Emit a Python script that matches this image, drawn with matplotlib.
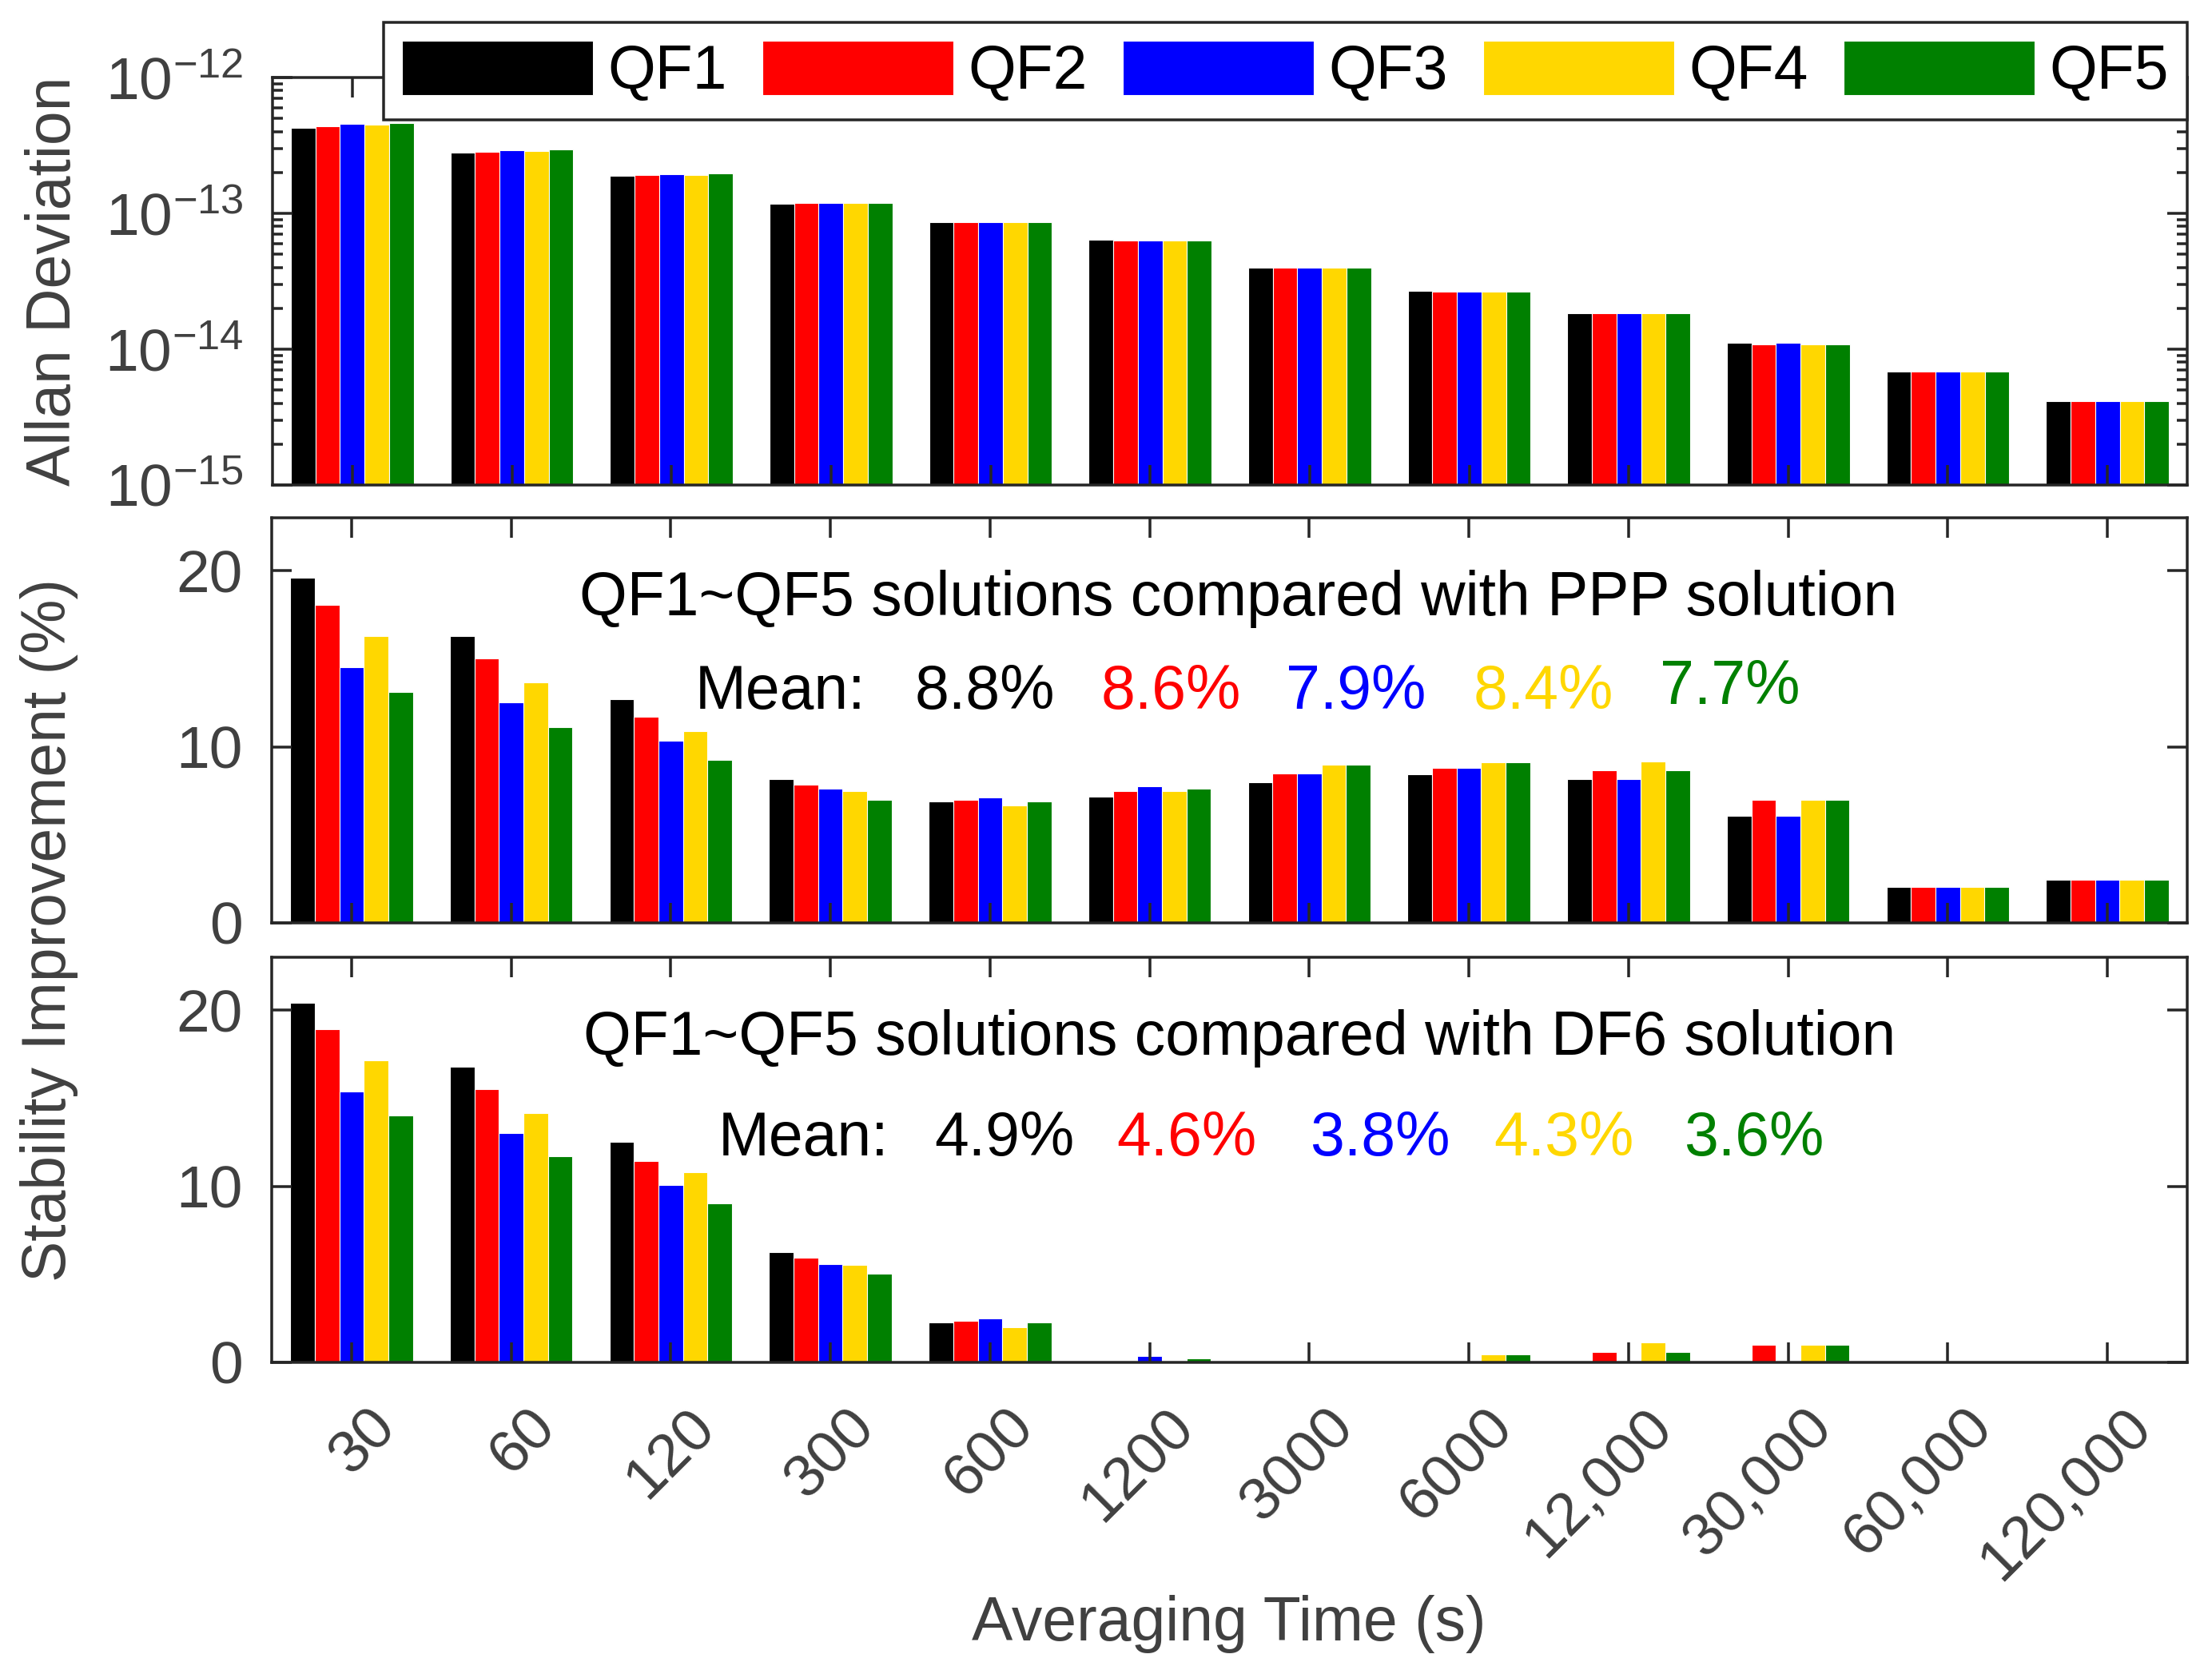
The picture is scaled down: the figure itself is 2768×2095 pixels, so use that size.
import numpy as np
import matplotlib
matplotlib.use("Agg")
import matplotlib.pyplot as plt
import matplotlib.transforms as mtransforms
from matplotlib.ticker import LogLocator, NullFormatter

plt.rcParams["font.family"] = ["Liberation Sans", "DejaVu Sans"]

# === Daten ===
tau_labels = ["30", "60", "120", "300", "600", "1200", "3000", "6000",
              "12,000", "30,000", "60,000", "120,000"]
serien = ["QF1", "QF2", "QF3", "QF4", "QF5"]
farben = ["#000000", "#FF0000", "#0000FF", "#FFD700", "#008000"]

# Allan-Abweichung
adev_qf1 = [4.26e-13, 2.81e-13, 1.89e-13, 1.18e-13, 8.6e-14, 6.4e-14, 3.98e-14, 2.69e-14, 1.84e-14, 1.10e-14, 6.75e-15, 4.04e-15]
adev_qf2 = [4.38e-13, 2.84e-13, 1.92e-13, 1.19e-13, 8.6e-14, 6.3e-14, 3.98e-14, 2.65e-14, 1.84e-14, 1.08e-14, 6.75e-15, 4.04e-15]
adev_qf3 = [4.56e-13, 2.92e-13, 1.94e-13, 1.19e-13, 8.6e-14, 6.3e-14, 3.98e-14, 2.65e-14, 1.84e-14, 1.10e-14, 6.75e-15, 4.04e-15]
adev_qf4 = [4.47e-13, 2.88e-13, 1.92e-13, 1.19e-13, 8.6e-14, 6.3e-14, 3.98e-14, 2.65e-14, 1.82e-14, 1.08e-14, 6.75e-15, 4.04e-15]
adev_qf5 = [4.62e-13, 2.96e-13, 1.97e-13, 1.19e-13, 8.6e-14, 6.3e-14, 3.98e-14, 2.65e-14, 1.84e-14, 1.08e-14, 6.75e-15, 4.04e-15]

# Verbesserung gegenueber PPP (%)
ppp_qf1 = [19.6, 16.3, 12.7, 8.15, 6.9, 7.15, 8.0, 8.45, 8.15, 6.1, 2.05, 2.45]
ppp_qf2 = [18.05, 15.0, 11.7, 7.85, 7.0, 7.5, 8.5, 8.8, 8.65, 7.0, 2.05, 2.45]
ppp_qf3 = [14.5, 12.5, 10.35, 7.6, 7.1, 7.75, 8.5, 8.8, 8.15, 6.1, 2.05, 2.45]
ppp_qf4 = [16.3, 13.65, 10.9, 7.5, 6.65, 7.5, 9.0, 9.1, 9.15, 7.0, 2.05, 2.45]
ppp_qf5 = [13.1, 11.1, 9.25, 7.0, 6.9, 7.6, 9.0, 9.1, 8.65, 7.0, 2.05, 2.45]
ppp_mean = ["8.8%", "8.6%", "7.9%", "8.4%", "7.7%"]

# Verbesserung gegenueber DF6 (%)
df6_qf1 = [20.4, 16.8, 12.5, 6.25, 2.26, 0, 0, 0, 0, 0, 0, 0]
df6_qf2 = [18.9, 15.5, 11.45, 5.93, 2.35, 0, 0, 0, 0.58, 0.99, 0, 0]
df6_qf3 = [15.4, 13.0, 10.05, 5.6, 2.49, 0.36, 0, 0, 0, 0, 0, 0]
df6_qf4 = [17.15, 14.15, 10.8, 5.52, 1.99, 0, 0, 0.45, 1.13, 0.99, 0, 0]
df6_qf5 = [14.0, 11.7, 9.05, 5.02, 2.26, 0.23, 0, 0.45, 0.58, 0.99, 0, 0]
df6_mean = ["4.9%", "4.6%", "3.8%", "4.3%", "3.6%"]

# === Stil ===
FS = 27.7
TICK_FS = 27
ACHSE = "#262626"
GRAU = "#404040"
LW = 1.26

x = np.arange(1, len(tau_labels) + 1)
bar_w = 0.769 / 5

fig = plt.figure(figsize=(13.84, 10.475), dpi=200)
W, H = 2768, 2095

def px_axes(left, top, right, bottom):
    return fig.add_axes([left / W, 1 - bottom / H, (right - left) / W, (bottom - top) / H])

ax1 = px_axes(341, 97, 2737, 607)
ax2 = px_axes(340, 648, 2737, 1155)
ax3 = px_axes(340, 1198, 2737, 1705)

def balken(ax, daten, bottom=0):
    handles = []
    for i, (vals, c, name) in enumerate(zip(daten, farben, serien)):
        h = ax.bar(x + (i - 2) * bar_w, vals, bar_w, bottom=bottom, color=c,
                   edgecolor="white", linewidth=0.4, label=name)
        handles.append(h)
    return handles

def achse_stil(ax):
    for s in ax.spines.values():
        s.set_linewidth(LW)
        s.set_color(ACHSE)
    ax.set_xlim(0.5, 12.5)
    ax.set_xticks(x)
    ax.tick_params(which="major", direction="in", top=True, right=True,
                   length=9, width=LW, color=ACHSE, labelsize=TICK_FS,
                   labelcolor=GRAU, pad=13)
    ax.tick_params(which="minor", direction="in", top=True, right=True,
                   length=4.7, width=LW, color=ACHSE)

# 1. Allan-Abweichung (log)
ax1.set_yscale("log")
handles = balken(ax1, [adev_qf1, adev_qf2, adev_qf3, adev_qf4, adev_qf5], bottom=1e-16)
ax1.set_ylim(1e-15, 1e-12)
ax1.yaxis.set_major_locator(LogLocator(base=10, numticks=10))
ax1.yaxis.set_minor_locator(LogLocator(base=10, subs=np.arange(2, 10), numticks=10))
ax1.yaxis.set_minor_formatter(NullFormatter())
achse_stil(ax1)
ax1.tick_params(labelbottom=False)

# 2. PPP
balken(ax2, [ppp_qf1, ppp_qf2, ppp_qf3, ppp_qf4, ppp_qf5])
ax2.set_ylim(0, 23)
ax2.set_yticks([0, 10, 20])
achse_stil(ax2)
ax2.tick_params(labelbottom=False)
ax2.text(2.428, 17.46, "QF1~QF5 solutions compared with PPP solution", fontsize=FS, va="baseline", ha="left", color="black")
ax2.text(3.154, 12.15, "Mean:", fontsize=FS, va="baseline", ha="left", color="black")
for xp, yp, t, c in zip([4.526, 5.693, 6.855, 8.026, 9.198], [12.15, 12.15, 12.15, 12.15, 12.43], ppp_mean, farben):
    ax2.text(xp, yp, t, fontsize=FS, va="baseline", ha="left", color=c)

# 3. DF6
balken(ax3, [df6_qf1, df6_qf2, df6_qf3, df6_qf4, df6_qf5])
ax3.set_ylim(0, 23)
ax3.set_yticks([0, 10, 20])
achse_stil(ax3)
ax3.set_xticklabels(tau_labels, rotation=45, ha="right", va="center", rotation_mode="anchor")
ax3.tick_params(axis="x", which="major", pad=25.2)
versatz = mtransforms.ScaledTranslation(44 / 200, 0, fig.dpi_scale_trans)
for lab in ax3.get_xticklabels():
    lab.set_transform(lab.get_transform() + versatz)
ax3.text(2.453, 17.47, "QF1~QF5 solutions compared with DF6 solution", fontsize=FS, va="baseline", ha="left", color="black")
ax3.text(3.299, 11.76, "Mean:", fontsize=FS, va="baseline", ha="left", color="black")
for xp, t, c in zip([4.651, 5.793, 7.005, 8.156, 9.348], df6_mean, farben):
    ax3.text(xp, 11.76, t, fontsize=FS, va="baseline", ha="left", color=c)

# Achsenbeschriftungen
fig.text(68 / W, 1 - 352 / H, "Allan Deviation", rotation=90, fontsize=FS, color=GRAU, ha="center", va="center")
fig.text(62 / W, 1 - 1164 / H, "Stability Improvement (%)", rotation=90, fontsize=FS, color=GRAU, ha="center", va="center")
fig.text(1538 / W, 1 - 2053 / H, "Averaging Time (s)", fontsize=FS, color=GRAU, ha="center", va="baseline")

# Legende
leg = fig.legend(handles=handles, labels=serien, ncol=5, loc="upper right",
                 bbox_to_anchor=(2737 / W, 1 - 28 / H), fontsize=FS,
                 handlelength=3.1, handleheight=0.98, handletextpad=0.24,
                 columnspacing=0.58, borderpad=0.3, fancybox=False,
                 framealpha=1, edgecolor=ACHSE, borderaxespad=0)
leg.get_frame().set_linewidth(LW)

fig.savefig("out.png", dpi=200)
